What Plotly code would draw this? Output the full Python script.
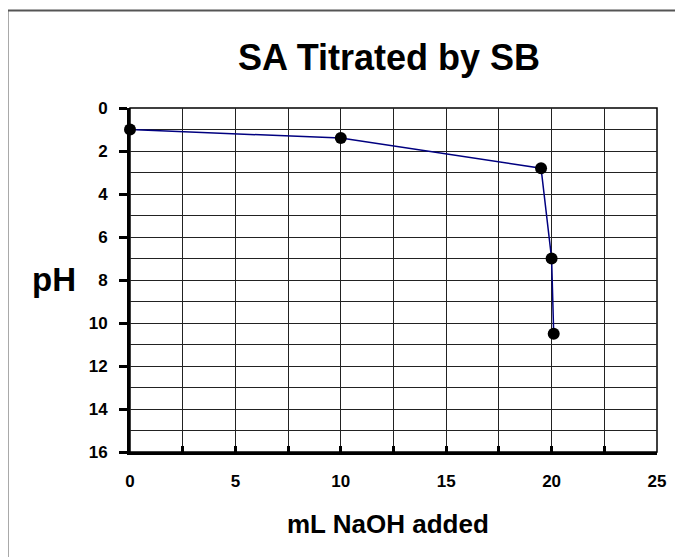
import plotly.graph_objs as go

# titration data
ml_naoh = [0, 10, 19.5, 20, 20.1]
ph = [1.0, 1.4, 2.8, 7.0, 10.5]

x_ticks = [0, 5, 10, 15, 20, 25]
y_ticks = [0, 2, 4, 6, 8, 10, 12, 14, 16]

fuente = "Liberation Sans, Arial, sans-serif"
rejilla = "#222222"

# the page adds an 8px body margin, so the figure is a bit smaller
ancho, alto = 675, 549
izq, arriba, der, abajo = 122, 100, 26, 105
pw = ancho - izq - der
ph_px = alto - arriba - abajo


def px_x(p):
    return (p - 8 - izq) / pw


def px_y(p):
    return (alto - abajo - (p - 8)) / ph_px


fig = go.Figure()

fig.add_trace(go.Scatter(
    x=ml_naoh,
    y=ph,
    mode='lines+markers',
    line=dict(color='#000080', width=1.5),
    marker=dict(color='black', size=12),
    cliponaxis=False,
    showlegend=False
))

fig.update_layout(
    width=ancho,
    height=alto,
    margin=dict(l=izq, r=der, t=arriba, b=abajo),
    plot_bgcolor='white',
    paper_bgcolor='white',
    font=dict(family=fuente, color='black'),
    title=dict(
        text="<b>SA Titrated by SB</b>",
        x=(389 - 8) / ancho, xanchor='center',
        y=1 - (57 - 8) / alto, yanchor='middle', yref='container',
        font=dict(size=36, family=fuente, color='black')
    ),
    xaxis=dict(
        range=[0, 25],
        tickvals=x_ticks,
        ticktext=[f"<b>{v}</b>" for v in x_ticks],
        tickfont=dict(size=17),
        ticks='inside', ticklen=6, tickwidth=3, tickcolor='black',
        ticklabelstandoff=12,
        showline=True, linecolor='black', linewidth=3,
        showgrid=True, gridcolor=rejilla, gridwidth=1,
        minor=dict(dtick=2.5, tick0=0, ticks='inside', ticklen=6, tickwidth=3,
                   tickcolor='black', showgrid=True, gridcolor=rejilla, gridwidth=1),
        zeroline=False
    ),
    yaxis=dict(
        range=[16, 0],
        tickvals=y_ticks,
        ticktext=[f"<b>{v}</b>" for v in y_ticks],
        tickfont=dict(size=17),
        ticks='outside', ticklen=8, tickwidth=3, tickcolor='black',
        ticklabelstandoff=8,
        showline=True, linecolor='black', linewidth=3,
        showgrid=True, gridcolor=rejilla, gridwidth=1,
        minor=dict(dtick=1, tick0=0, ticks='', showgrid=True,
                   gridcolor=rejilla, gridwidth=1),
        zeroline=False
    ),
    annotations=[
        dict(text="<b>pH</b>", x=px_x(54), y=px_y(279),
             xref='paper', yref='paper', showarrow=False,
             xanchor='center', yanchor='middle',
             font=dict(size=33, family=fuente, color='black')),
        dict(text="<b>mL NaOH added</b>", x=px_x(388), y=px_y(524),
             xref='paper', yref='paper', showarrow=False,
             xanchor='center', yanchor='middle',
             font=dict(size=26, family=fuente, color='black'))
    ],
    shapes=[
        dict(type='rect', xref='paper', yref='paper', x0=0, x1=1, y0=0, y1=1,
             line=dict(color='black', width=1.5), layer='below'),
        dict(type='path', xref='paper', yref='paper',
             path=f"M {px_x(7.5)},-0.5 L {px_x(7.5)},{px_y(10.5)} L 1.2,{px_y(10.5)}",
             line=dict(color='#555555', width=2))
    ]
)

fig.write_html("out.html")
